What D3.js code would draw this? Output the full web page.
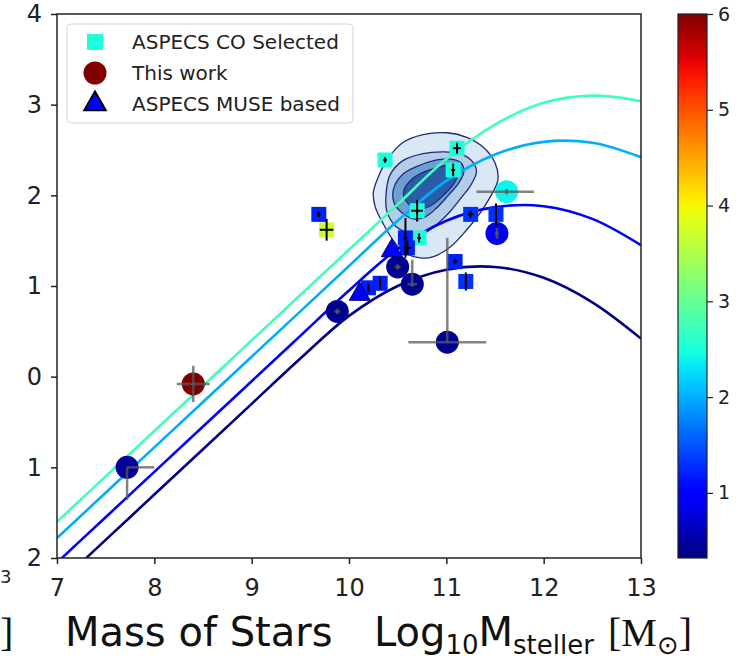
<!DOCTYPE html>
<html>
<head>
<meta charset="utf-8">
<script src="https://cdn.jsdelivr.net/npm/d3@7"></script>
<style>
  html, body { margin: 0; padding: 0; background: #fff; }
  svg { display: block; }
</style>
</head>
<body>
<svg id="chart" width="742" height="660"></svg>
<script>
// ---------------- DATA ----------------
const xTickValues = [7, 8, 9, 10, 11, 12, 13];
const xTickLabels = ["7", "8", "9", "10", "11", "12", "13"];
const yTickValues = [-2, -1, 0, 1, 2, 3, 4];
const yTickLabels = ["2", "1", "0", "1", "2", "3", "4"];
const cbTickValues = [1, 2, 3, 4, 5, 6];
const cbTickLabels = ["1", "2", "3", "4", "5", "6"];
const cbDomain = [0.32, 6];

// main-sequence curves
const curveX = [7, 7.5, 8, 8.5, 9, 9.5, 10, 10.5, 11, 11.5, 12, 12.5, 13];
const curveZ = [2.75, 2, 1, 0.35];
const curveZ3 = [-1.60, -1.10, -0.60, -0.10, 0.40, 0.90, 1.40, 1.90, 2.40, 2.78, 3.02, 3.10, 3.04];
const curveZ2 = [-1.78, -1.28, -0.78, -0.28, 0.22, 0.72, 1.22, 1.72, 2.16, 2.45, 2.59, 2.58, 2.42];
const curveZ1 = [-2.05, -1.55, -1.05, -0.55, -0.05, 0.45, 0.95, 1.41, 1.72, 1.87, 1.88, 1.74, 1.45];
const curveZ035 = [-2.30, -1.80, -1.30, -0.80, -0.30, 0.20, 0.67, 1.00, 1.18, 1.21, 1.09, 0.82, 0.42];

// density contours (outer to inner), [x, y] pairs
const contour1 = [[10.25,2.03],[10.30,2.20],[10.39,2.39],[10.55,2.58],[10.76,2.67],[11.01,2.69],[11.21,2.64],[11.38,2.53],[11.50,2.36],[11.53,2.17],[11.45,1.98],[11.35,1.81],[11.21,1.62],[11.04,1.43],[10.86,1.32],[10.73,1.31],[10.55,1.38],[10.45,1.51],[10.35,1.69],[10.27,1.87]];
const contour2 = [[10.42,2.22],[10.55,2.38],[10.76,2.46],[10.97,2.48],[11.14,2.46],[11.27,2.37],[11.31,2.26],[11.25,2.11],[11.15,1.97],[11.02,1.80],[10.88,1.66],[10.76,1.58],[10.63,1.58],[10.48,1.66],[10.39,1.82],[10.38,2.00]];
const contour3 = [[10.46,2.08],[10.55,2.23],[10.70,2.32],[10.86,2.38],[11.04,2.40],[11.15,2.36],[11.18,2.26],[11.13,2.14],[11.02,2.00],[10.90,1.86],[10.78,1.76],[10.66,1.74],[10.54,1.81],[10.46,1.93]];
const contour4 = [[10.56,2.04],[10.66,2.19],[10.80,2.27],[10.96,2.32],[11.07,2.34],[11.12,2.27],[11.09,2.15],[10.97,2.00],[10.83,1.88],[10.70,1.85],[10.60,1.92]];

// ASPECS CO selected (squares)
const coX    = [10.37, 11.11, 11.07, 10.70, 11.25, 11.51, 10.72, 10.58, 10.60, 11.09, 11.20, 10.32, 10.20, 9.69, 9.77];
const coY    = [2.39, 2.52, 2.28, 1.83, 1.79, 1.79, 1.53, 1.53, 1.42, 1.27, 1.05, 1.03, 0.98, 1.79, 1.62];
const coZ    = [2.5, 2.5, 2.5, 2.5, 1.3, 1.3, 2.5, 1.2, 1.2, 1.2, 1.3, 1.2, 1.2, 1.2, 3.7];
const coXerr = [0.02, 0.04, 0.02, 0.06, 0.03, 0.01, 0.02, 0.02, 0.04, 0.02, 0.01, 0.01, 0.01, 0.02, 0.07];
const coYerr = [0.03, 0.06, 0.07, 0.12, 0.04, 0.12, 0.05, 0.22, 0.08, 0.03, 0.10, 0.07, 0.05, 0.03, 0.12];

// This work (circles)
const twX   = [8.40, 7.72, 11.01, 9.88, 10.50, 10.65, 11.52, 11.62];
const twY   = [-0.08, -1.00, 0.38, 0.72, 1.21, 1.02, 1.58, 2.04];
const twZ   = [6.0, 0.45, 0.40, 0.40, 0.40, 0.40, 0.85, 2.4];
const twXlo = [0.17, 0.00, 0.40, 0.03, 0.03, 0.05, 0.02, 0.31];
const twXhi = [0.17, 0.28, 0.40, 0.03, 0.03, 0.05, 0.02, 0.28];
const twYlo = [0.20, 0.36, 0.00, 0.03, 0.03, 0.03, 0.06, 0.03];
const twYhi = [0.20, 0.00, 1.15, 0.03, 0.03, 0.27, 0.06, 0.03];

// ASPECS MUSE based (triangles)
const muX = [10.44, 10.11];
const muY = [1.40, 0.92];
const muZ = [1.0, 1.0];

const legendLabels = ["ASPECS CO Selected", "This work", "ASPECS MUSE based"];
const xLabelLeft = "Mass of Stars";

// ---------------- DRAW ----------------
const svg = d3.select("#chart");
const FONT = "'DejaVu Sans', Verdana, sans-serif";
const L = 57, R = 641, T = 14, B = 558;
const x = d3.scaleLinear().domain([7, 13]).range([L, R]);
const y = d3.scaleLinear().domain([-2, 4]).range([B, T]);

// jet colormap
const jr = d3.scaleLinear().domain([0, 0.35, 0.66, 0.89, 1]).range([0, 0, 1, 1, 0.5]).clamp(true);
const jg = d3.scaleLinear().domain([0, 0.125, 0.375, 0.64, 0.91, 1]).range([0, 0, 1, 1, 0, 0]).clamp(true);
const jb = d3.scaleLinear().domain([0, 0.11, 0.34, 0.65, 1]).range([0.5, 1, 1, 0, 0]).clamp(true);
const jet = t => d3.rgb(255 * jr(t), 255 * jg(t), 255 * jb(t)).toString();
const zNorm = d3.scaleLinear().domain(cbDomain).range([0, 1]).clamp(true);
const zColor = z => jet(zNorm(z));

svg.append("defs").append("clipPath").attr("id", "plotclip")
  .append("rect").attr("x", L).attr("y", T).attr("width", R - L).attr("height", B - T);

const plot = svg.append("g").attr("clip-path", "url(#plotclip)");

// contours
const contourLine = d3.line().x(d => x(d[0])).y(d => y(d[1])).curve(d3.curveCatmullRomClosed.alpha(0.5));
const contours = [contour1, contour2, contour3, contour4];
const contourFill = ["#dae7f5", "#b3cde8", "#6e9fd2", "#2a5ca8"];
contours.forEach((c, i) => {
  plot.append("path").attr("d", contourLine(c))
    .attr("fill", contourFill[i])
    .attr("stroke", "#1f2a78").attr("stroke-width", 1.3);
});

// curves
const curves = [curveZ3, curveZ2, curveZ1, curveZ035];
const lineGen = d3.line().x((d, i) => x(curveX[i])).y(d => y(d)).curve(d3.curveCatmullRom.alpha(0.5));
curves.forEach((c, i) => {
  plot.append("path").attr("d", lineGen(c))
    .attr("fill", "none").attr("stroke", zColor(curveZ[i])).attr("stroke-width", 2.6);
});

// squares
const sq = 15;
coX.forEach((v, i) => {
  plot.append("rect")
    .attr("x", x(v) - sq / 2).attr("y", y(coY[i]) - sq / 2)
    .attr("width", sq).attr("height", sq)
    .attr("fill", zColor(coZ[i]));
});
// circles
twX.forEach((v, i) => {
  plot.append("circle").attr("cx", x(v)).attr("cy", y(twY[i])).attr("r", 11.5)
    .attr("fill", zColor(twZ[i]));
});
// triangles
const tri = d3.symbol().type(d3.symbolTriangle).size(190);
muX.forEach((v, i) => {
  plot.append("path").attr("d", tri())
    .attr("transform", `translate(${x(v)},${y(muY[i]) + 1})`)
    .attr("fill", zColor(muZ[i])).attr("stroke", "#000050").attr("stroke-width", 1);
});

// error bars: squares (black)
coX.forEach((v, i) => {
  const cx = x(v), cy = y(coY[i]);
  plot.append("line").attr("x1", x(v - coXerr[i])).attr("x2", x(v + coXerr[i])).attr("y1", cy).attr("y2", cy)
    .attr("stroke", "#000").attr("stroke-width", 2);
  plot.append("line").attr("x1", cx).attr("x2", cx).attr("y1", y(coY[i] - coYerr[i])).attr("y2", y(coY[i] + coYerr[i]))
    .attr("stroke", "#000").attr("stroke-width", 2);
});
// error bars: circles (grey)
twX.forEach((v, i) => {
  const cx = x(v), cy = y(twY[i]);
  plot.append("line").attr("x1", x(v - twXlo[i])).attr("x2", x(v + twXhi[i])).attr("y1", cy).attr("y2", cy)
    .attr("stroke", "rgba(90,90,90,0.75)").attr("stroke-width", 2.5);
  plot.append("line").attr("x1", cx).attr("x2", cx).attr("y1", y(twY[i] - twYlo[i])).attr("y2", y(twY[i] + twYhi[i]))
    .attr("stroke", "rgba(90,90,90,0.75)").attr("stroke-width", 2.5);
});

// frame
svg.append("rect").attr("x", L).attr("y", T).attr("width", R - L).attr("height", B - T)
  .attr("fill", "none").attr("stroke", "#222").attr("stroke-width", 1.5);

// x axis
const xAxis = svg.append("g").attr("transform", `translate(0,${B})`)
  .call(d3.axisBottom(x).tickValues(xTickValues).tickSize(6).tickPadding(4)
    .tickFormat((d, i) => xTickLabels[i]));
xAxis.select(".domain").remove();
xAxis.selectAll(".tick line").attr("stroke", "#222").attr("stroke-width", 1.5);
xAxis.selectAll(".tick text").attr("font-family", FONT).attr("font-size", 24).attr("fill", "#222")
  .attr("y", 21).attr("dy", "0.71em");

// y axis
const yAxis = svg.append("g").attr("transform", `translate(${L},0)`)
  .call(d3.axisLeft(y).tickValues(yTickValues).tickSize(6).tickPadding(9)
    .tickFormat((d, i) => yTickLabels[i]));
yAxis.select(".domain").remove();
yAxis.selectAll(".tick line").attr("stroke", "#222").attr("stroke-width", 1.5);
yAxis.selectAll(".tick text").attr("font-family", FONT).attr("font-size", 24).attr("fill", "#222");

// legend
const lg = svg.append("g");
lg.append("rect").attr("x", 67).attr("y", 24).attr("width", 286).attr("height", 99).attr("rx", 4)
  .attr("fill", "rgba(255,255,255,0.85)").attr("stroke", "#d4d4d4").attr("stroke-width", 1);
lg.append("rect").attr("x", 87).attr("y", 34).attr("width", 16).attr("height", 16).attr("fill", zColor(2.5));
lg.append("circle").attr("cx", 95).attr("cy", 73).attr("r", 11.5).attr("fill", zColor(6));
lg.append("path").attr("d", d3.symbol().type(d3.symbolTriangle).size(200)())
  .attr("transform", "translate(95,104)").attr("fill", zColor(1.0)).attr("stroke", "#000").attr("stroke-width", 2);
const legendY = [49, 80, 111];
legendLabels.forEach((t, i) => {
  lg.append("text").attr("x", 132).attr("y", legendY[i]).attr("font-family", FONT).attr("font-size", 20)
    .attr("fill", "#222").text(t);
});

// colorbar
const cbX = 678, cbW = 29;
const cb = d3.scaleLinear().domain(cbDomain).range([B, T]);
const grad = svg.select("defs").append("linearGradient").attr("id", "jetgrad")
  .attr("x1", 0).attr("y1", 1).attr("x2", 0).attr("y2", 0);
d3.range(0, 1.0001, 0.02).forEach(t => {
  grad.append("stop").attr("offset", t).attr("stop-color", jet(t));
});
svg.append("rect").attr("x", cbX).attr("y", T).attr("width", cbW).attr("height", B - T)
  .attr("fill", "url(#jetgrad)").attr("stroke", "#222").attr("stroke-width", 1.2);
const cbAxis = svg.append("g").attr("transform", `translate(${cbX + cbW},0)`)
  .call(d3.axisRight(cb).tickValues(cbTickValues).tickSize(6).tickPadding(5)
    .tickFormat((d, i) => cbTickLabels[i]));
cbAxis.select(".domain").remove();
cbAxis.selectAll(".tick line").attr("stroke", "#222").attr("stroke-width", 1.2);
cbAxis.selectAll(".tick text").attr("font-family", FONT).attr("font-size", 19).attr("fill", "#222");

// x label
svg.append("text").attr("x", 65).attr("y", 646).attr("font-family", FONT).attr("font-size", 40)
  .attr("fill", "#111").text(xLabelLeft);
const xl = svg.append("text").attr("x", 374).attr("y", 646).attr("font-family", FONT).attr("font-size", 40).attr("fill", "#111");
xl.append("tspan").text("Log");
xl.append("tspan").attr("font-size", 26).attr("dy", 8).text("10");
xl.append("tspan").attr("dy", -8).text("M");
xl.append("tspan").attr("font-size", 26).attr("dy", 8).text("steller");
const xr = svg.append("text").attr("x", 608).attr("y", 646).attr("font-family", "'Liberation Serif', 'DejaVu Serif', serif")
  .attr("font-size", 40).attr("fill", "#111");
xr.append("tspan").text("[M");
xr.append("tspan").attr("font-family", FONT).attr("font-size", 26).attr("dy", 8).text("⊙");
xr.append("tspan").attr("dy", -8).text("]");

// remnants at the left edge
svg.append("text").attr("x", 0).attr("y", 583).attr("font-family", FONT).attr("font-size", 18).attr("fill", "#222").text("3");
svg.append("text").attr("x", 0).attr("y", 646).attr("font-family", "'Liberation Serif', serif").attr("font-size", 40).attr("fill", "#111").text("]");
</script>
</body>
</html>
